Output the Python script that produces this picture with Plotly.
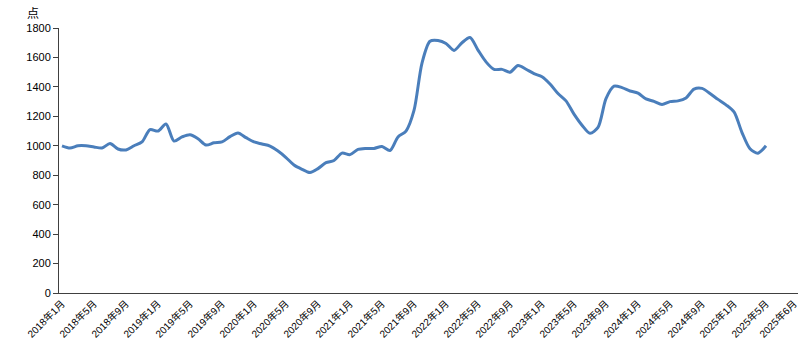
import plotly.graph_objects as go

# Monthly index values, 2018-01 .. 2025-05
months = [f"{2018 + i // 12}年{i % 12 + 1}月" for i in range(89)]
values = [
    1000, 985, 1000, 1000, 992, 985, 1015, 978, 972, 1000,   # 2018-01..2018-10
    1026, 1110, 1100, 1148, 1032, 1060, 1075, 1048, 1005, 1020,  # 2018-11..2019-08
    1026, 1062, 1087, 1055, 1026, 1012, 998, 964, 920, 869,   # 2019-09..2020-06
    840, 818, 845, 885, 900, 950, 940, 975, 982, 982,         # 2020-07..2021-04
    995, 968, 1060, 1100, 1240, 1562, 1710, 1715, 1695, 1648,  # 2021-05..2022-02
    1700, 1735, 1650, 1570, 1519, 1519, 1500, 1545, 1520, 1490,  # 2022-03..2022-12
    1469, 1420, 1355, 1305, 1215, 1140, 1085, 1125, 1320, 1405,  # 2023-01..2023-10
    1395, 1372, 1358, 1318, 1302, 1280, 1300, 1305, 1325, 1385,  # 2023-11..2024-08
    1390, 1355, 1315, 1278, 1230, 1090, 980, 950, 1000,        # 2024-09..2025-05
]
tick_labels = [months[i] for i in range(0, 89, 4)] + ["2025年6月"]
tick_pos = list(range(0, 89, 4)) + [91.5]
y_ticks = [0, 200, 400, 600, 800, 1000, 1200, 1400, 1600, 1800]

x_idx = list(range(len(values)))

fig = go.Figure()
fig.add_trace(go.Scatter(
    x=x_idx, y=values, mode="lines",
    line=dict(color="#4A7EBB", width=3, shape="spline", smoothing=0.8),
    hoverinfo="skip", showlegend=False,
))

fig.update_layout(
    width=800, height=363,
    margin=dict(l=59, r=2, t=28, b=70),
    paper_bgcolor="white", plot_bgcolor="white",
    font=dict(family="Liberation Sans, Arial, Noto Sans CJK SC", size=11, color="#000"),
    xaxis=dict(
        range=[-0.375, 92], tickmode="array", tickvals=tick_pos, ticktext=tick_labels,
        tickangle=-45, showgrid=False, zeroline=False, showline=True, automargin=False,
        linecolor="#404040", linewidth=1, ticks="", ticklabeloverflow="allow",
        tickfont=dict(family="Liberation Sans, Noto Sans CJK SC", size=10, color="#000"),
    ),
    yaxis=dict(
        range=[0, 1800], tickmode="array", tickvals=y_ticks, automargin=False,
        showgrid=False, zeroline=False, showline=True,
        linecolor="#404040", linewidth=1, ticks="outside", ticklen=5, tickcolor="#404040",
        tickfont=dict(family="Liberation Sans, Arial", size=11, color="#000"),
    ),
    annotations=[dict(
        text="点", xref="paper", yref="paper", x=-0.0352, y=1.0585,
        xanchor="center", yanchor="middle", showarrow=False,
        font=dict(family="Noto Sans CJK SC", size=12, color="#000"),
    )],
)

fig.write_html("out.html", config={"displayModeBar": False},
               post_script="document.body.style.margin='0';")
